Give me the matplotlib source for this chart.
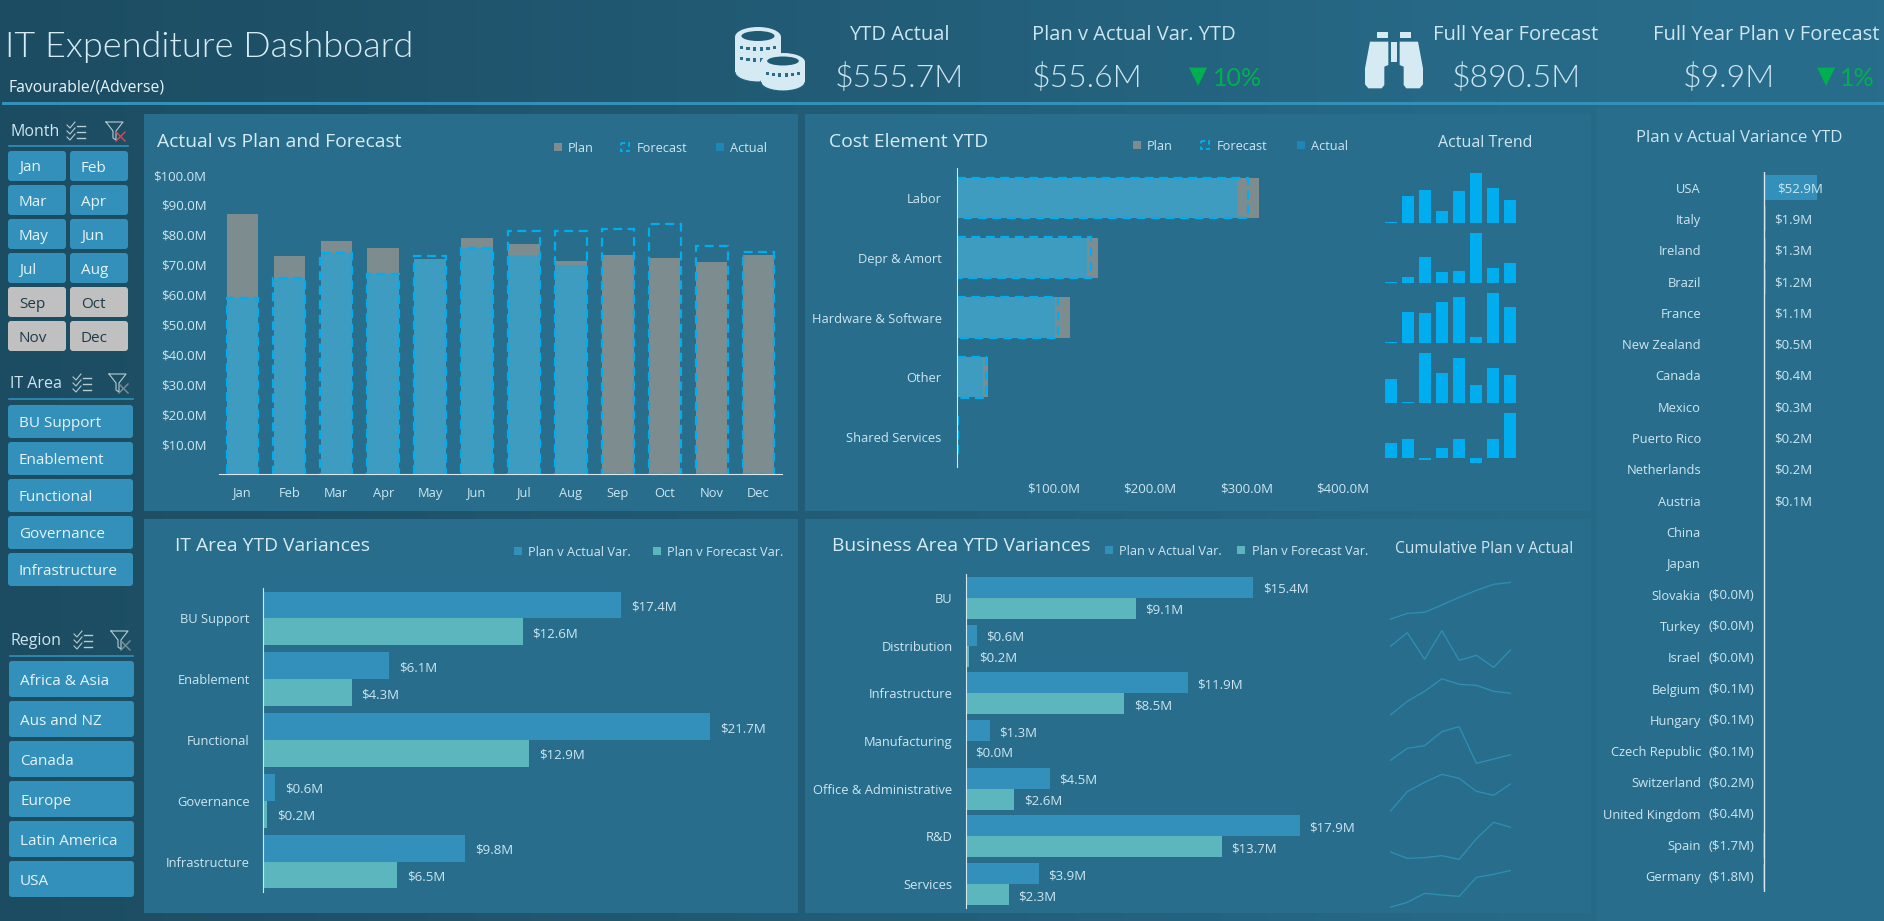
import numpy as np
import matplotlib
matplotlib.use("Agg")
import matplotlib.pyplot as plt
from matplotlib.patches import Rectangle, FancyBboxPatch, Ellipse, Polygon
from matplotlib.colors import LinearSegmentedColormap

plt.rcParams['font.family'] = ['Open Sans', 'DejaVu Sans']

W, H = 1884, 921

months = ["Jan", "Feb", "Mar", "Apr", "May", "Jun", "Jul", "Aug", "Sep", "Oct", "Nov", "Dec"]
plan_month = [86.9, 72.8, 77.8, 75.5, 72.0, 78.8, 76.8, 71.2, 73.2, 72.2, 70.8, 73.2]
actual_month = [58.7, 65.7, 74.0, 66.9, 71.9, 75.7, 73.2, 69.8, 0, 0, 0, 0]
forecast_month = [58.7, 65.7, 74.0, 66.9, 72.9, 75.7, 81.3, 81.3, 82.0, 83.7, 76.3, 74.3]

cost_elements = ["Labor", "Depr & Amort", "Hardware & Software", "Other", "Shared Services"]
plan_cost = [313, 145.6, 117.4, 32, 1.0]
forecast_cost = [302, 138.5, 104.9, 30.5, 1.5]
actual_cost = [290, 134.6, 101.7, 27.4, 0.8]

trend_rows = [
    [3, 81, 99, 36, 96, 150, 105, 69],
    [3, 18, 78, 33, 36, 150, 45, 60],
    [3, 93, 90, 123, 138, 18, 150, 108],
    [72, 3, 150, 90, 135, 54, 105, 84],
    [45, 57, -5, 30, 57, -15, 57, 135],
]

it_areas = ["BU Support", "Enablement", "Functional", "Governance", "Infrastructure"]
it_pva = [17.4, 6.1, 21.7, 0.6, 9.8]
it_pvf = [12.6, 4.3, 12.9, 0.2, 6.5]

bus_areas = ["BU", "Distribution", "Infrastructure", "Manufacturing",
             "Office & Administrative", "R&D", "Services"]
bus_pva = [15.4, 0.6, 11.9, 1.3, 4.5, 17.9, 3.9]
bus_pvf = [9.1, 0.2, 8.5, 0.0, 2.6, 13.7, 2.3]

cum_rows = [
    [12, 30, 33, 55, 78, 99, 117, 123],
    [70, 112, 32, 118, 29, 44, 8, 62],
    [4, 46, 76, 114, 97, 94, 76, 70],
    [13, 50, 58, 100, 115, 5, 18, 31],
    [5, 65, 93, 117, 105, 66, 54, 89],
    [30, 10, 12, 18, 7, 69, 118, 103],
    [8, 23, 50, 45, 41, 98, 107, 119],
]

countries = ["USA", "Italy", "Ireland", "Brazil", "France", "New Zealand", "Canada", "Mexico",
             "Puerto Rico", "Netherlands", "Austria", "China", "Japan", "Slovakia", "Turkey",
             "Israel", "Belgium", "Hungary", "Czech Republic", "Switzerland", "United Kingdom",
             "Spain", "Germany"]
country_var = [52.9, 1.9, 1.3, 1.2, 1.1, 0.5, 0.4, 0.3, 0.2, 0.2, 0.1, None, None,
               -0.02, -0.03, -0.04, -0.1, -0.1, -0.1, -0.2, -0.4, -1.7, -1.8]

region_names = ["Africa & Asia", "Aus and NZ", "Canada", "Europe", "Latin America", "USA"]

LIGHT = "#CDE6F1"
TITLE = "#D6ECF5"
PANEL = "#286E8C"
BAR_A = "#3E9CC0"
BAR_P = "#7C8C8F"
FORE = "#00AEEF"
VAR_A = "#3390BA"
VAR_F = "#5BB6BE"
GREEN = "#00B050"
THIN = ["Lato", "DejaVu Sans"]


def px_axes(x0, y0, x1, y1):
    # pixel box, y measured from the top
    ax = fig.add_axes([x0 / W, 1 - y1 / H, (x1 - x0) / W, (y1 - y0) / H], zorder=2)
    ax.patch.set_visible(False)
    for s in ax.spines.values():
        s.set_visible(False)
    ax.tick_params(length=0, colors=LIGHT)
    return ax


def txt(x, y, s, size, color=LIGHT, ha="left", weight="normal", **kw):
    # +2 px: the reference text sits a little lower than matplotlib's centre
    bg.text(x, y + 2, s, fontsize=size, color=color, ha=ha, va="center", fontweight=weight, **kw)


def button(x0, y0, x1, y1, label, size, gray=False):
    bg.add_patch(FancyBboxPatch((x0, y0), x1 - x0, y1 - y0, boxstyle="round,pad=0,rounding_size=3",
                                fc="#C0C0C0" if gray else VAR_A, ec="none"))
    txt(x0 + 11, (y0 + y1) / 2, label, size, color="#1F3A46" if gray else "#E6F4FA")


def slicer_header(x_text, y, label, x_line, y_line, x_multi, x_filter, red=False):
    txt(x_text, y - 1, label, 11.5)
    bg.plot(x_line, [y_line, y_line], color=VAR_A, lw=1.2)
    for k, dy in enumerate([-6, 0, 6]):
        bg.plot([x_multi - 9, x_multi - 6, x_multi - 1], [y + dy, y + dy + 3, y + dy - 3], color="#B8CBD3", lw=0.8)
        bg.plot([x_multi + 1, x_multi + 9], [y + dy + 1, y + dy + 1], color="#B8CBD3", lw=1.0)
    bg.plot([x_filter - 9, x_filter + 8, x_filter + 1, x_filter + 1, x_filter - 2, x_filter - 2, x_filter - 9],
            [y - 9, y - 9, y, y + 9, y + 7, y, y - 9], color="#B8CBD3", lw=0.8)
    xc = "#E0474C" if red else "#7C9099"
    bg.plot([x_filter + 1, x_filter + 10], [y + 1, y + 10], color=xc, lw=1.0)
    bg.plot([x_filter + 1, x_filter + 10], [y + 10, y + 1], color=xc, lw=1.0)


def legend_sq(x, y, color, dashed=False):
    if dashed:
        bg.add_patch(Rectangle((x, y - 4), 8, 8, fill=False, ec=FORE, lw=1.4, ls=(0, (2.2, 1.6))))
    else:
        bg.add_patch(Rectangle((x, y - 4), 8, 8, fc=color, ec="none"))


def legend_label(x, y, label, size=9.2):
    txt(x, y - 1, label, size)


fig = plt.figure(figsize=(W / 100, H / 100), dpi=100)
bg = fig.add_axes([0, 0, 1, 1], zorder=1)
bg.set_xlim(0, W)
bg.set_ylim(H, 0)
bg.axis("off")

cmap = LinearSegmentedColormap.from_list(
    "bgfade", [(0, "#1C4C61"), (0.42, "#225B75"), (0.8, "#276A88"), (1, "#286E8C")])
bg.imshow(np.linspace(0, 1, 512)[None, :], cmap=cmap, extent=[0, W, H, 0], aspect="auto", zorder=0)
bg.set_xlim(0, W)
bg.set_ylim(H, 0)

# panels
for x0, y0, x1, y1 in [(144, 114, 798, 511), (805, 114, 1591, 511),
                       (144, 519, 798, 913), (805, 519, 1591, 913), (1597, 108, W, H)]:
    bg.add_patch(Rectangle((x0, y0), x1 - x0, y1 - y0, fc=PANEL, ec="none", zorder=0.5))
bg.add_patch(Rectangle((2, 102), W - 2, 3, fc=VAR_A, ec="none"))

# header
txt(5, 45, "IT Expenditure Dashboard", 26, color=TITLE, weight=300, fontfamily=THIN)
txt(8, 85, "Favourable/(Adverse)", 11.3, color="#E6F4FA")
txt(899, 33, "YTD Actual", 14.5, ha="center")
txt(899, 76, "$555.7M", 23, ha="center", weight=300, fontfamily=THIN)
txt(1134, 33, "Plan v Actual Var. YTD", 14.5, ha="center")
txt(1087, 76, "$55.6M", 23, ha="center", weight=300, fontfamily=THIN)
txt(1198, 74, "\u25BC", 17, color=GREEN, ha="center", fontfamily="DejaVu Sans")
txt(1238, 76, "10%", 18, color=GREEN, ha="center", fontfamily=THIN)
txt(1516, 33, "Full Year Forecast", 14.5, ha="center")
txt(1516, 76, "$890.5M", 23, ha="center", weight=300, fontfamily=THIN)
txt(1766, 33, "Full Year Plan v Forecast", 14.5, ha="center")
txt(1729, 76, "$9.9M", 23, ha="center", weight=300, fontfamily=THIN)
txt(1826, 74, "\u25BC", 17, color=GREEN, ha="center", fontfamily="DejaVu Sans")
txt(1857, 76, "1%", 18, color=GREEN, ha="center", fontfamily=THIN)

# coins icon
ICON = "#D5EAF3"
for cx, top, bot, w, h in [(758, 37, 72, 46, 20), (783, 62, 82, 44, 18)]:
    bg.add_patch(Ellipse((cx, bot), w, h, fc=ICON, ec="#21617C", lw=0.8))
    bg.add_patch(Rectangle((cx - w / 2, top), w, bot - top, fc=ICON, ec="none"))
    bg.add_patch(Ellipse((cx, top), w, h, fc=ICON, ec="none"))
    bg.add_patch(Ellipse((cx, top - 1), w * 0.72, h * 0.5, fc="#1F5A73", ec="none"))
    for row in [top + 9, top + 20] if bot - top > 25 else [top + 10]:
        for dx in np.linspace(-w * 0.36, w * 0.36, 6):
            bg.add_patch(Rectangle((cx + dx - 1.6, row + 3 * (1 - (dx / (w / 2)) ** 2) - 1.6), 3.2, 3.4, fc="#2B6C88", ec="none"))


# binoculars icon
def bino(z):
    return [(1355 + a / 3, 15 + b / 3) for a, b in z]


left_barrel = [(45, 80), (100, 80), (100, 150), (88, 155), (88, 210), (80, 220), (40, 220), (30, 208), (30, 160)]
right_barrel = [(234 - a, b) for a, b in left_barrel]
for poly in [left_barrel, right_barrel, [(67, 50), (100, 50), (100, 70), (67, 70)],
             [(134, 50), (167, 50), (167, 70), (134, 70)], [(108, 80), (126, 80), (126, 140), (108, 140)]]:
    bg.add_patch(Polygon(bino(poly), fc=ICON, ec="none"))

# slicers
slicer_header(10, 131, "Month", [9, 128], 146, 76, 115, red=True)
for i, m in enumerate(months):
    col, row = i % 2, i // 2
    x0 = 8 if col == 0 else 70
    x1 = 66 if col == 0 else 128
    button(x0, 151 + row * 34, x1, 181 + row * 34, m, 11, gray=i >= 8)
slicer_header(10, 383, "IT Area", [9, 133], 399, 82, 118)
for i, a in enumerate(it_areas):
    button(8, 405 + i * 37, 133, 438 + i * 37, a, 11)
slicer_header(10, 640, "Region", [10, 133], 655.5, 83, 120)
for i, r in enumerate(region_names):
    button(9, 661 + i * 40, 134, 697 + i * 40, r, 11)

# Actual vs Plan and Forecast
txt(157, 140, "Actual vs Plan and Forecast", 13.9, color=TITLE)
legend_sq(554, 147, BAR_P)
legend_label(568, 147, "Plan")
legend_sq(621, 147, FORE, dashed=True)
legend_label(637, 147, "Forecast")
legend_sq(716, 147, "#1F86B5")
legend_label(730, 147, "Actual")

ax = px_axes(219, 175, 782, 474)
xs = np.arange(len(months))
ax.bar(xs, plan_month, width=0.67, color=BAR_P)
ax.bar(xs, actual_month, width=0.67, color=BAR_A)
ax.bar(xs, forecast_month, width=0.68, fill=False, edgecolor=FORE, linewidth=1.6, linestyle=(0, (4, 2.5)), clip_on=False)
ax.set_xlim(-0.5, 11.5)
ax.set_ylim(0, 100)
ax.set_xticks(xs, months, fontsize=9.3)
ax.set_yticks(np.arange(10, 101, 10), [f"${v}.0M" for v in range(10, 101, 10)], fontsize=9.5)
ax.tick_params(axis="x", pad=9)
ax.tick_params(axis="y", pad=9)
ax.spines["bottom"].set_visible(True)
ax.spines["bottom"].set_color("#D9E6EC")

# Cost Element YTD
txt(829, 140, "Cost Element YTD", 13.9, color=TITLE)
legend_sq(1133, 145, BAR_P)
legend_label(1147, 145, "Plan")
legend_sq(1201, 145, FORE, dashed=True)
legend_label(1217, 145, "Forecast")
legend_sq(1297, 145, "#1F86B5")
legend_label(1311, 145, "Actual")
txt(1485.5, 141, "Actual Trend", 11.5, ha="center")

ax = px_axes(957, 168, 1343, 467)
ys = np.arange(len(cost_elements))
ax.barh(ys, plan_cost, height=0.67, color=BAR_P)
ax.barh(ys, actual_cost, height=0.67, color=BAR_A)
ax.barh(ys, forecast_cost, height=0.68, fill=False, edgecolor=FORE, linewidth=1.6, linestyle=(0, (4, 2.5)))
ax.set_xlim(0, 400)
ax.set_ylim(4.5, -0.5)
ax.set_yticks(ys, cost_elements, fontsize=9.3)
ax.set_xticks([100, 200, 300, 400], ["$100.0M", "$200.0M", "$300.0M", "$400.0M"], fontsize=9.5)
ax.tick_params(axis="y", pad=11)
ax.tick_params(axis="x", pad=11)
ax.spines["left"].set_visible(True)
ax.spines["left"].set_color("#D9E6EC")

# Actual Trend sparklines
bases = [223, 283, 343, 403]
for row, base in zip(trend_rows[:4], bases):
    ax = px_axes(1382.5, base - 50, 1518.5, base)
    ax.bar(range(len(row)), row, width=0.71, color=FORE)
    ax.set_xlim(-0.5, 7.5)
    ax.set_ylim(0, 150)
    ax.axis("off")
ax = px_axes(1382.5, 413, 1518.5, 463)
ax.bar(range(len(trend_rows[4])), trend_rows[4], width=0.71, color=FORE)
ax.set_xlim(-0.5, 7.5)
ax.set_ylim(-15, 135)
ax.axis("off")


def variance_chart(box, names, pva, pvf, xmax, pad_lbl):
    ax = px_axes(*box)
    ys = np.arange(len(names))
    ax.barh(ys - 0.22, pva, height=0.44, color=VAR_A)
    ax.barh(ys + 0.22, pvf, height=0.44, color=VAR_F)
    for y, a, f in zip(ys, pva, pvf):
        ax.annotate(f"${a:.1f}M", (a, y - 0.22), xytext=(pad_lbl, -2), textcoords="offset pixels",
                    color=LIGHT, fontsize=9.5, va="center")
        ax.annotate(f"${f:.1f}M", (f, y + 0.22), xytext=(pad_lbl, -2), textcoords="offset pixels",
                    color=LIGHT, fontsize=9.5, va="center")
    ax.set_xlim(0, xmax)
    ax.set_ylim(len(names) - 0.5, -0.5)
    ax.set_xticks([])
    ax.set_yticks(ys, names, fontsize=9.3)
    ax.tick_params(axis="y", pad=9.5)
    ax.spines["left"].set_visible(True)
    ax.spines["left"].set_color("#D9E6EC")
    return ax


# IT Area YTD Variances
txt(175, 544, "IT Area YTD Variances", 13.9, color=TITLE)
legend_sq(514, 551, VAR_A)
legend_label(528, 551, "Plan v Actual Var.")
legend_sq(653, 551, VAR_F)
legend_label(667, 551, "Plan v Forecast Var.")
variance_chart((263, 588, 778, 892), it_areas, it_pva, it_pvf, 25, 10)

# Business Area YTD Variances
txt(832, 544, "Business Area YTD Variances", 13.9, color=TITLE)
legend_sq(1105, 550, VAR_A)
legend_label(1119, 550, "Plan v Actual Var.")
legend_sq(1237, 550, VAR_F)
legend_label(1252, 550, "Plan v Forecast Var.")
variance_chart((965.7, 574, 1339.3, 908), bus_areas, bus_pva, bus_pvf, 20, 9.5)

# Cumulative Plan v Actual
txt(1395, 547, "Cumulative Plan v Actual", 11.2)
cum_bottoms = [310, 450, 590, 735, 880, 1025, 1170]
for row, b in zip(cum_rows, cum_bottoms):
    y1 = 520 + b / 3
    ax = px_axes(1390, y1 - 130 / 3, 1511, y1)
    ax.plot(range(len(row)), row, color="#2F8FB5", lw=0.9)
    ax.set_xlim(0, 7)
    ax.set_ylim(0, 130)
    ax.axis("off")

# Plan v Actual Variance YTD
txt(1739, 136, "Plan v Actual Variance YTD", 12.1, ha="center")
ax = px_axes(1710, 172, 1850, 892)
ys = np.arange(len(countries))
vals = [0 if v is None else v for v in country_var]
ax.barh(ys, vals, height=0.8, color=VAR_A)
ax.axvline(0, color="#D9E6EC", lw=1.0)
for y, v in zip(ys, country_var):
    if v is None:
        continue
    if v >= 0:
        off = 13 if y == 0 else 10
        ax.annotate(f"${v:.1f}M", (0, y), xytext=(off, -1), textcoords="offset pixels",
                    color=LIGHT, fontsize=9.5, va="center")
    else:
        ax.annotate(f"(${abs(v):.1f}M)", (0, y), xytext=(-10, -1), textcoords="offset pixels",
                    color=LIGHT, fontsize=9.5, va="center", ha="right")
ax.set_xlim(-54.3, 85.7)
ax.set_ylim(len(countries) - 0.5, -0.5)
ax.set_xticks([])
ax.set_yticks(ys, countries, fontsize=9.3)
ax.tick_params(axis="y", pad=6.5)

fig.savefig("out.png", dpi=100)
